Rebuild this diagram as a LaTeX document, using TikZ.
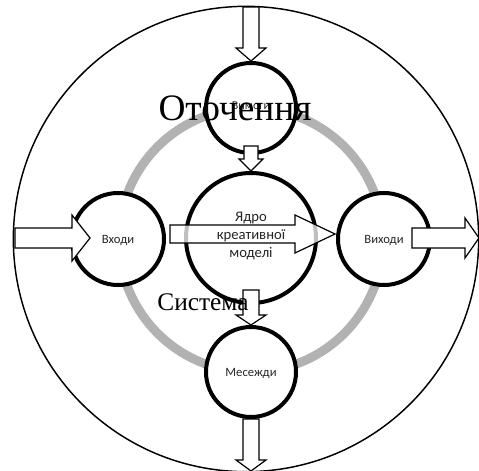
\documentclass[tikz,border=0pt]{standalone}
\usepackage{fontspec}
\setmainfont{Liberation Serif}
\newfontfamily\carl{Carlito}
\usetikzlibrary{calc}
\tikzset{
  ring/.style={circle, draw=black, line width=3pt, fill=white, inner sep=0pt},
  lbl/.style={font=\carl\fontsize{9.5}{11}\selectfont, text=black!85},
  barrow/.style={draw=black, line width=0.9pt, fill=white, line join=miter},
}
\newcommand\blockarr[6][]{%
  \path ($(#3)!#6!(#2)$) coordinate (bh);
  \draw[barrow,#1] ($(#2)!#4!90:(#3)$) -- ($(bh)!#4!90:(#3)$) -- ($(bh)!#5!90:(#3)$) -- (#3)
    -- ($(bh)!#5!-90:(#3)$) -- ($(bh)!#4!-90:(#3)$) -- ($(#2)!#4!-90:(#3)$) -- cycle;
}
\begin{document}
\begin{tikzpicture}[x=0.75pt,y=-0.75pt]
\useasboundingbox (0,0) rectangle (479,471);
% outer environment circle
\node[circle, draw=black, line width=1.1pt, minimum size=349pt, inner sep=0pt] (outer) at (246,239) {};
% gray system ring
\node[circle, draw=black!30, line width=6.75pt, minimum size=198pt, inner sep=0pt] (sys) at (251,240) {};
% nodes
\node[ring, minimum size=67.5pt] (top) at (251,108) {};
\node[lbl, font=\carl\fontsize{9}{11}\selectfont] (toplbl) at (251,106) {Вимоги};
\node[ring, minimum size=97.5pt] (core) at (251,238) {};
\node[ring, minimum size=69pt] (left) at (118,239) {};
\node[lbl] (leftlbl) at (118,240) {Входи};
\node[ring, minimum size=69pt] (right) at (384,239) {};
\node[lbl] (rightlbl) at (384,240) {Виходи};
\node[ring, minimum size=67.5pt] (bottom) at (251,372) {};
\node[lbl] (bottomlbl) at (251,373) {Месежди};
% big label
\node[font=\fontsize{28}{30}\selectfont, inner sep=0pt] (env) at (235,108) {Оточення};
% connector coordinates
\coordinate (t0) at (251,7);
\coordinate (a2s) at (251,146);
\coordinate (l0) at (15,238);
\coordinate (ltip) at (90,238);
\coordinate (c0) at (170,234);
\coordinate (ctip) at (335,234);
\coordinate (r0) at (412,238);
\coordinate (rtip) at (479,238);
\coordinate (b0) at (251,290);
\coordinate (btip) at (251,471);
% block arrows
\blockarr{t0}{top.north}{6pt}{11.25pt}{9.75pt}
\blockarr{a2s}{core.north}{5.25pt}{9pt}{9pt}
\blockarr{l0}{ltip}{7.5pt}{17.25pt}{13.5pt}
\blockarr[fill opacity=0.75]{c0}{ctip}{6.75pt}{14.25pt}{30pt}
\blockarr{r0}{rtip}{7.5pt}{15pt}{10.5pt}
\blockarr{b0}{bottom.north}{6pt}{11.25pt}{7.5pt}
\blockarr{bottom.south}{btip}{6pt}{11.25pt}{8.25pt}
% labels on top
\node[font=\fontsize{19}{21}\selectfont, inner sep=0pt] (systxt) at (203,302) {Система};
\node[lbl, font=\carl\fontsize{11}{13.5}\selectfont, align=center] (corelbl) at (251,236) {Ядро\\креативної\\моделі};
\end{tikzpicture}
\end{document}
